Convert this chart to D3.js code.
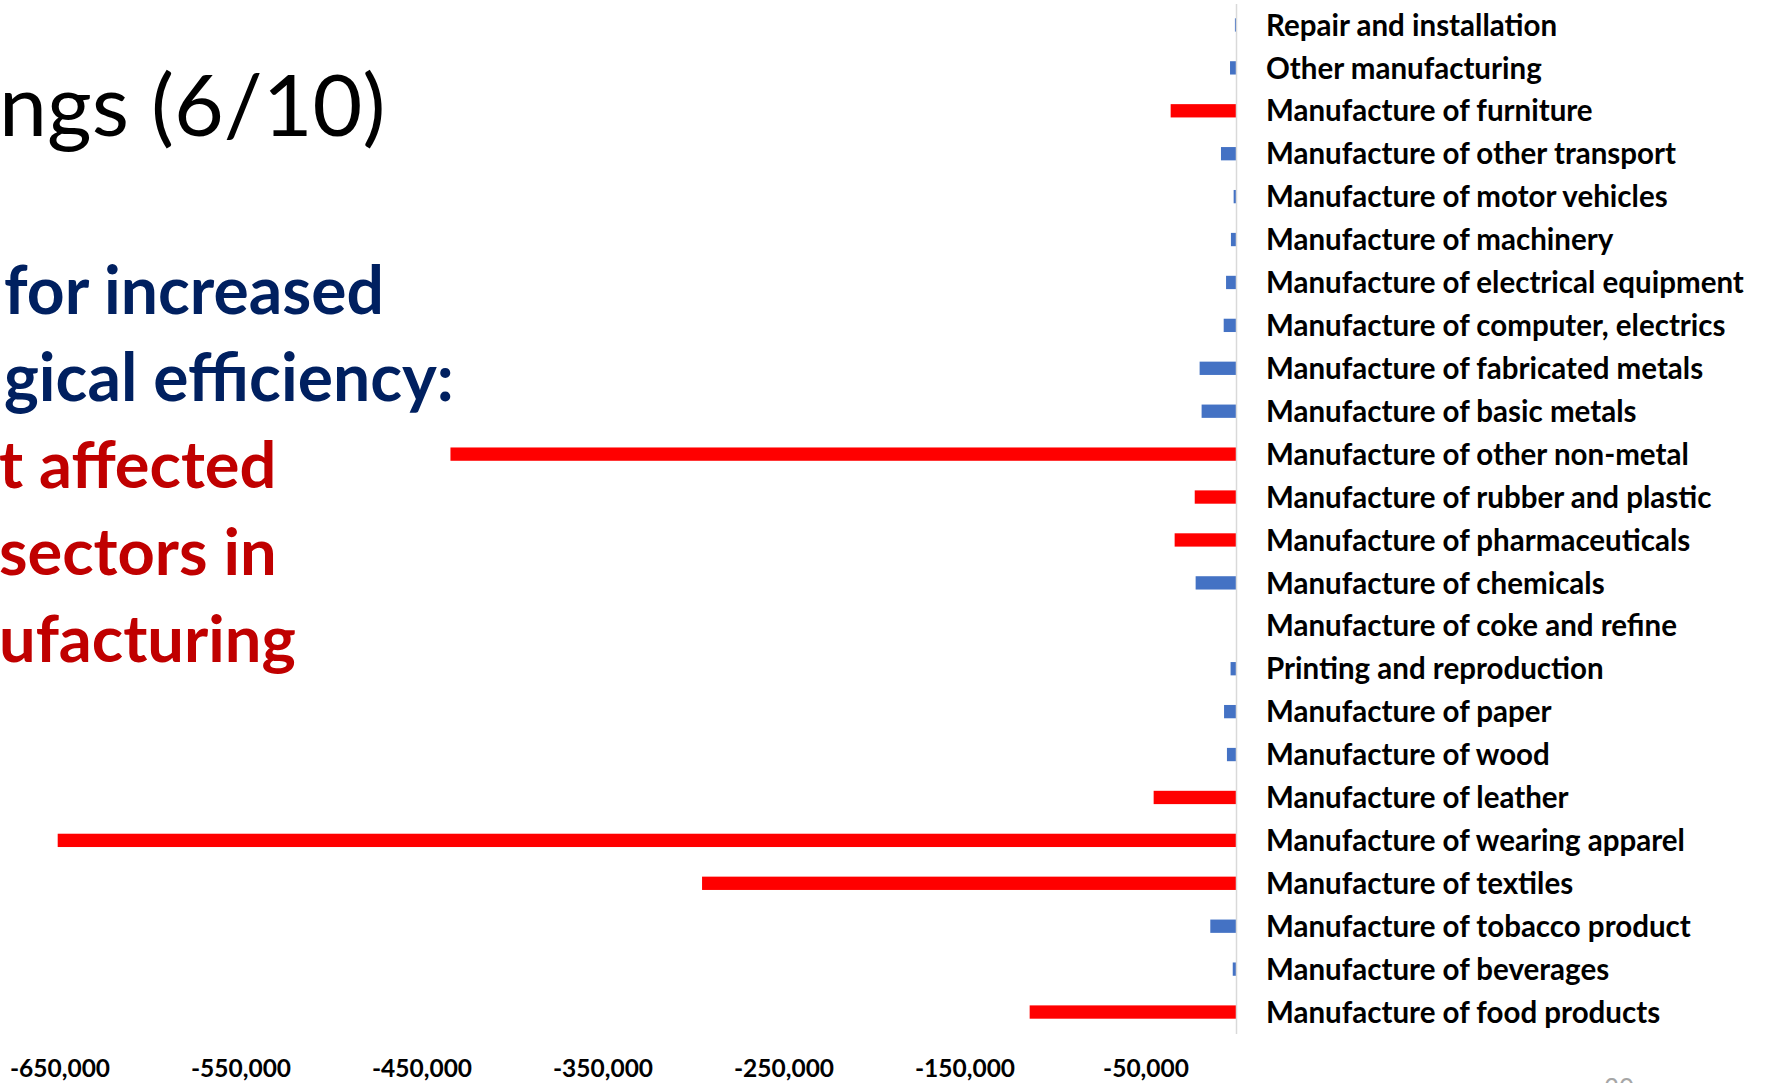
<!DOCTYPE html>
<html>
<head>
<meta charset="utf-8">
<script src="https://cdn.jsdelivr.net/npm/d3@7"></script>
<style>
  html, body { margin: 0; padding: 0; background: #ffffff; overflow: hidden; }
  svg { display: block; }
</style>
</head>
<body>
<svg id="chart" width="1772" height="1083"></svg>
<script>
// Manufacturing sectors (ISIC order, food products first)
const categories = [
  "Manufacture of food products",
  "Manufacture of beverages",
  "Manufacture of tobacco product",
  "Manufacture of textiles",
  "Manufacture of wearing apparel",
  "Manufacture of leather",
  "Manufacture of wood",
  "Manufacture of paper",
  "Printing and reproduction",
  "Manufacture of coke and refine",
  "Manufacture of chemicals",
  "Manufacture of pharmaceuticals",
  "Manufacture of rubber and plastic",
  "Manufacture of other non-metal",
  "Manufacture of basic metals",
  "Manufacture of fabricated metals",
  "Manufacture of computer, electrics",
  "Manufacture of electrical equipment",
  "Manufacture of machinery",
  "Manufacture of motor vehicles",
  "Manufacture of other transport",
  "Manufacture of furniture",
  "Other manufacturing",
  "Repair and installation"
];

// Change in employment per sector
const values = [
  -114000, -1800, -14200, -295000, -651000, -45500,
  -5000, -6600, -3000, 0, -22300, -33900,
  -22800, -434000, -19000, -20100, -6800, -5500,
  -2800, -1300, -8300, -36100, -3300, -600
];

// Sectors hit hardest by efficiency gains
const mostAffected = [
  "Manufacture of food products",
  "Manufacture of textiles",
  "Manufacture of wearing apparel",
  "Manufacture of leather",
  "Manufacture of pharmaceuticals",
  "Manufacture of rubber and plastic",
  "Manufacture of other non-metal",
  "Manufacture of furniture"
];

const tickValues = [-650000, -550000, -450000, -350000, -250000, -150000, -50000];

const titleText = "ngs (6/10)";
const blueLines = ["for increased", "gical efficiency:"];
const redLines = ["t affected", "sectors in", "ufacturing"];

const rows = categories.map((c, i) => ({ name: c, value: values[i] }));

const svg = d3.select("#chart");

const x = d3.scaleLinear()
  .domain([-650000, 0])
  .range([59.5, 1236]);

const y = d3.scaleBand()
  .domain(categories.slice().reverse())
  .range([3.5, 1033.5])
  .paddingInner(0.69)
  .paddingOuter(0.345);

const bodyFont = "Lato, 'Open Sans', sans-serif";

// Slide heading and bullet text
svg.append("text")
  .attr("x", -1).attr("y", 136)
  .attr("font-family", bodyFont)
  .attr("font-size", 86)
  .attr("fill", "#000000")
  .text(titleText);

blueLines.forEach((t, i) => {
  svg.append("text")
    .attr("x", 4).attr("y", 314 + i * 87)
    .attr("font-family", bodyFont)
    .attr("font-weight", 700)
    .attr("font-size", 66)
    .attr("fill", "#002060")
    .text(t);
});
redLines.forEach((t, i) => {
  svg.append("text")
    .attr("x", -1).attr("y", 488 + i * 87)
    .attr("font-family", bodyFont)
    .attr("font-weight", 700)
    .attr("font-size", 65)
    .attr("fill", "#C00000")
    .text(t);
});

// Bars
svg.append("g")
  .selectAll("rect")
  .data(rows)
  .join("rect")
  .attr("x", d => x(Math.min(d.value, 0)))
  .attr("y", d => y(d.name))
  .attr("width", d => Math.abs(x(d.value) - x(0)))
  .attr("height", y.bandwidth())
  .attr("fill", d => mostAffected.includes(d.name) ? "#FF0000" : "#4472C4");

// Category axis at zero, labels to the right
const yAxis = svg.append("g")
  .attr("transform", `translate(${x(0)},0)`)
  .call(d3.axisRight(y).tickSize(0).tickSizeOuter(0).tickPadding(30));
yAxis.select(".domain").attr("stroke", "#d9d9d9").attr("stroke-width", 1.5);
yAxis.selectAll("text")
  .attr("font-family", bodyFont)
  .attr("font-weight", 700)
  .attr("font-size", 29.5)
  .attr("dy", "0.36em")
  .attr("fill", "#000000");

// Value axis labels
const fmt = d3.formatLocale({ decimal: ".", thousands: ",", grouping: [3], currency: ["", ""], minus: "-" }).format(",");
const xAxis = svg.append("g")
  .attr("transform", "translate(0,1060)")
  .call(d3.axisBottom(x).tickValues(tickValues).tickFormat(fmt).tickSize(0).tickPadding(0));
xAxis.select(".domain").remove();
xAxis.selectAll("text")
  .attr("font-family", bodyFont)
  .attr("font-weight", 700)
  .attr("font-size", 24.5)
  .attr("fill", "#000000");

// Page number, mostly below the bottom edge
svg.append("text")
  .attr("x", 1619).attr("y", 1098)
  .attr("text-anchor", "middle")
  .attr("font-family", bodyFont)
  .attr("font-size", 26)
  .attr("fill", "#a6a6a6")
  .text("30");
</script>
</body>
</html>
